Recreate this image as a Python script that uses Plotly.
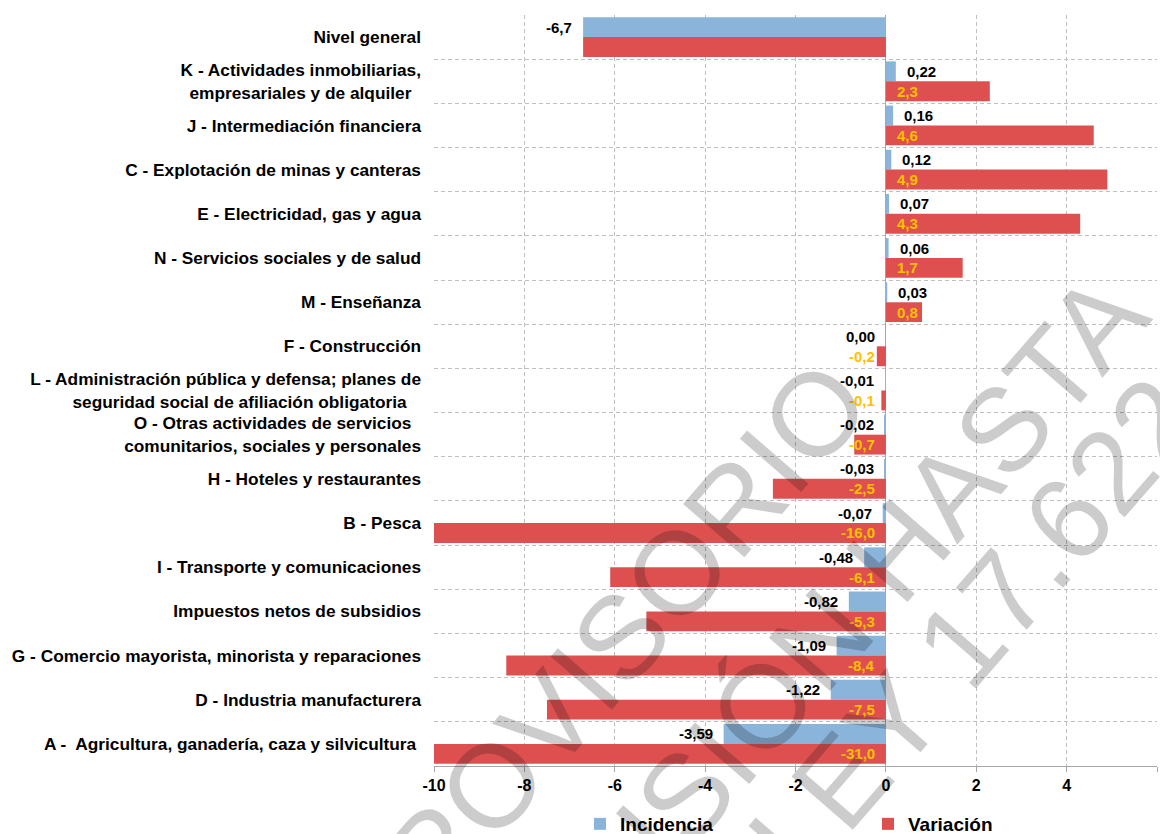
import plotly.graph_objects as go

# ---------------- data ----------------
categories = [
    "Nivel general",
    "K - Actividades inmobiliarias,<br>empresariales y de alquiler\u00a0\u00a0",
    "J - Intermediación financiera",
    "C - Explotación de minas y canteras",
    "E - Electricidad, gas y agua",
    "N - Servicios sociales y de salud",
    "M - Enseñanza",
    "F - Construcción",
    "L - Administración pública y defensa; planes de<br>seguridad social de afiliación obligatoria\u00a0\u00a0\u00a0",
    "O - Otras actividades de servicios\u00a0\u00a0<br>comunitarios, sociales y personales",
    "H - Hoteles y restaurantes",
    "B - Pesca",
    "I - Transporte y comunicaciones",
    "Impuestos netos de subsidios",
    "G - Comercio mayorista, minorista y reparaciones",
    "D - Industria manufacturera",
    "A -  Agricultura, ganadería, caza y silvicultura\u00a0",
]
incidencia = [-6.7, 0.22, 0.16, 0.12, 0.07, 0.06, 0.03, 0.00, -0.01, -0.02,
              -0.03, -0.07, -0.48, -0.82, -1.09, -1.22, -3.59]
variacion = [-6.7, 2.3, 4.6, 4.9, 4.3, 1.7, 0.8, -0.2, -0.1, -0.7,
             -2.5, -16.0, -6.1, -5.3, -8.4, -7.5, -31.0]
x_ticks = [-10, -8, -6, -4, -2, 0, 2, 4, 6]
watermark_lines = ["PROVISORIO", "DIFUSIÓN HASTA", "LEY 17.622"]

BLUE = "#8AB4DA"
RED = "#DE5050"
ORANGE = "#FFC000"
GRID = "#BFBFBF"
AXIS = "#A6A6A6"
FONT = "Liberation Sans, Arial, Helvetica, sans-serif"


def fmt(v, dec):
    return f"{v:.{dec}f}".replace(".", ",")


fig = go.Figure()
fig.add_trace(go.Bar(
    y=categories, x=incidencia, orientation="h", name="Incidencia",
    marker=dict(color=BLUE, line=dict(width=0)), hoverinfo="skip",
))
fig.add_trace(go.Bar(
    y=categories, x=variacion, orientation="h", name="Variación",
    marker=dict(color=RED, line=dict(width=0)), hoverinfo="skip",
))

annotations = []
off = 0.225
for i, (c, vi, vv) in enumerate(zip(categories, incidencia, variacion)):
    general = c == "Nivel general"
    annotations.append(dict(
        x=vi, y=i - off, xref="x", yref="y",
        text=fmt(vi, 1 if general else 2), showarrow=False,
        xanchor="left" if vi > 0 else "right",
        xshift=9 if vi > 0 else -9,
        font=dict(family=FONT, size=15, color="#000000", weight="bold"),
    ))
    if not general:
        annotations.append(dict(
            x=0, y=i + off, xref="x", yref="y",
            text=fmt(vv, 1), showarrow=False,
            xanchor="left" if vv > 0 else "right",
            xshift=9 if vv > 0 else -9,
            font=dict(family=FONT, size=15, color=ORANGE, weight="bold"),
        ))

# watermark (pixel positions converted to paper coords)
L, T, W, H = 434, 15, 723, 751
def px(xp, yp):
    return (xp - L) / W, (T + H - yp) / H

for txt, (cx, cy) in zip(watermark_lines, [(599, 662), (801, 662), (974, 628)]):
    xp, yp = px(cx, cy)
    annotations.append(dict(
        x=xp, y=yp, xref="paper", yref="paper", text=txt, showarrow=False,
        xanchor="center", yanchor="middle", textangle=-49,
        font=dict(family=FONT, size=118, color="rgba(0,0,0,0.2)"),
    ))

fig.update_layout(
    width=1160, height=834,
    margin=dict(l=L, r=1160 - L - W, t=T, b=834 - T - H, autoexpand=False),
    paper_bgcolor="white", plot_bgcolor="white",
    barmode="group", bargap=0.1, bargroupgap=0,
    font=dict(family=FONT, color="#000000"),
    showlegend=True,
    legend=dict(
        orientation="h", x=(580 - L) / W, xanchor="left",
        y=-(824 - (T + H)) / H, yanchor="middle",
        entrywidth=243, entrywidthmode="pixels",
        font=dict(family=FONT, size=19, color="#000000", weight="bold"),
        bgcolor="rgba(0,0,0,0)",
    ),
    annotations=annotations,
)
fig.update_xaxes(
    range=[-10, 6], tickvals=x_ticks, ticktext=[str(t) for t in x_ticks],
    showgrid=True, gridcolor=GRID, griddash="4px,3px", gridwidth=1,
    zeroline=True, zerolinecolor=AXIS, zerolinewidth=1,
    showline=True, linecolor=AXIS, linewidth=1,
    ticks="outside", ticklen=5, tickcolor=AXIS,
    tickfont=dict(family=FONT, size=16, color="#000000", weight="bold"),
    fixedrange=True,
)
fig.update_yaxes(
    type="category", range=[len(categories) - 0.5, -0.5],
    tickson="boundaries", ticks="", showgrid=True, gridcolor=GRID,
    griddash="4px,3px", gridwidth=1, showline=False, zeroline=False,
    ticklabelstandoff=12,
    tickfont=dict(family=FONT, size=17.3, color="#000000", weight="bold"),
    fixedrange=True,
)

fig.write_html("out.html", config={"displayModeBar": False},
               post_script="document.body.style.margin='0px';")
